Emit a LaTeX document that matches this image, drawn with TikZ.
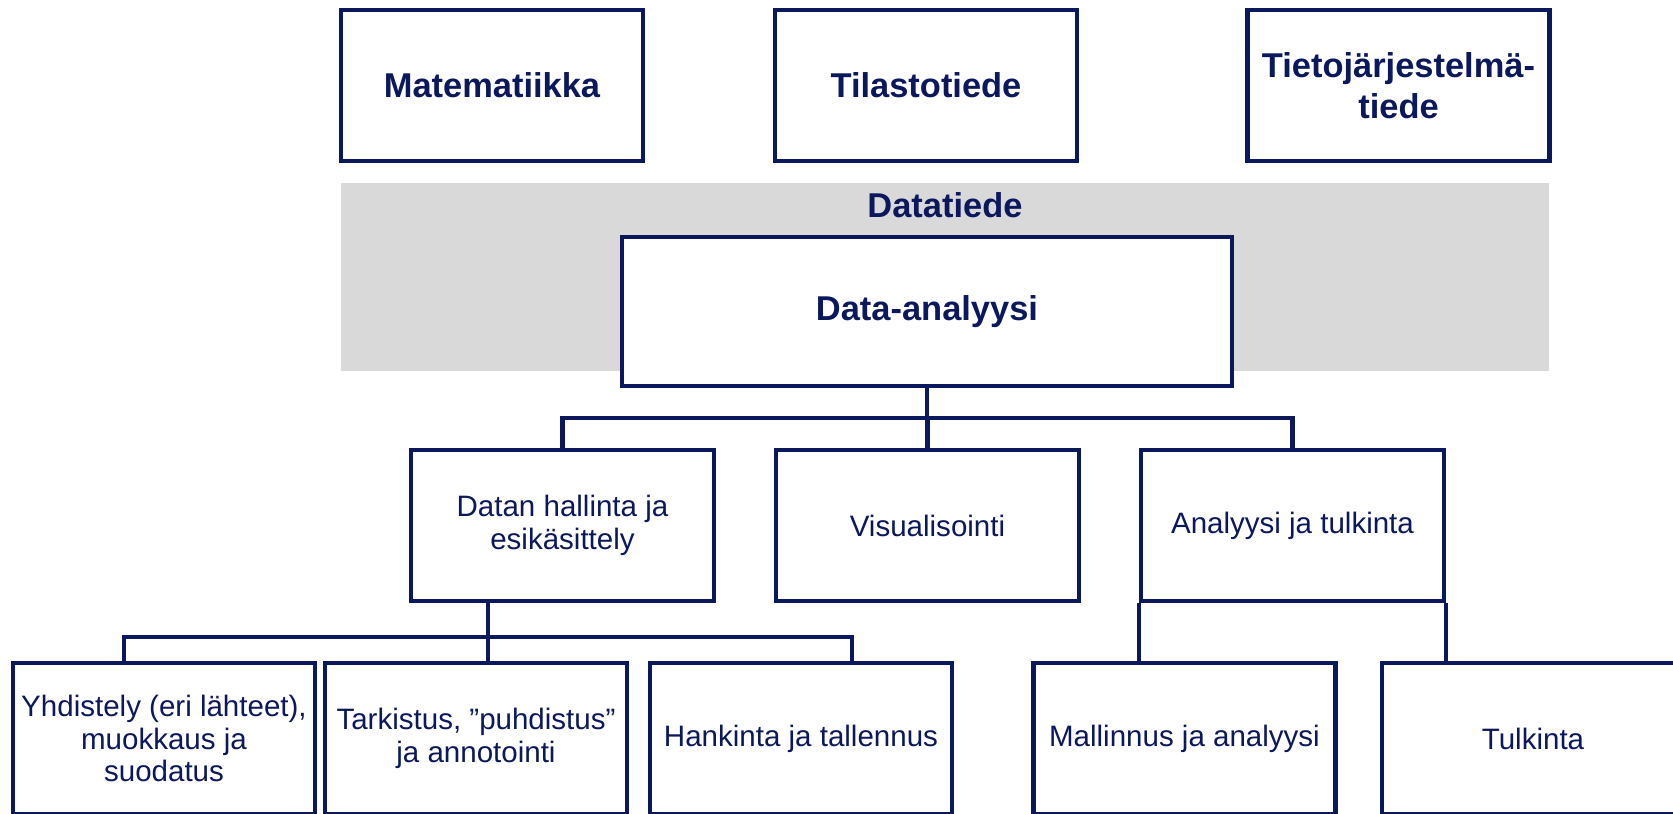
\documentclass[tikz,border=0pt]{standalone}
\usepackage{fontspec}
\setmainfont{Liberation Sans}
\usepackage{tikz}
\usetikzlibrary{positioning}
\definecolor{navy}{RGB}{12,24,92}
\definecolor{bandgray}{RGB}{217,217,217}

\begin{document}
\begin{tikzpicture}[
  box/.style={draw=navy,line width=1.3pt,fill=white,text=navy,align=center,minimum width=3.02cm,minimum height=1.51cm,inner sep=1pt},
  headbox/.style={box,font=\fontsize{9.8}{11.8}\selectfont\bfseries},
  leafbox/.style={box,font=\fontsize{8.4}{9.2}\selectfont},
  conn/.style={draw=navy,line width=1.2pt}]
\useasboundingbox (0,0) rectangle (16.73,8.13);
\clip (0,0) rectangle (16.73,8.13);

\node[headbox] (mat) at (4.92,7.275) {Matematiikka};
\node[headbox] (til) at (9.26,7.275) {Tilastotiede};
\node[headbox] (tie) at (13.985,7.275) {Tietojärjestelmä-\\tiede};

\fill[bandgray] (3.41,4.42) rectangle (15.49,6.30);
\node[font=\fontsize{9.8}{11.8}\selectfont\bfseries,text=navy] (dt) at (9.45,6.08) {Datatiede};
\node[headbox,minimum width=6.10cm,minimum height=1.49cm] (da) at (9.27,5.015) {Data-analyysi};

\node[leafbox,minimum width=3.03cm] (dh) at (5.625,2.875) {Datan hallinta ja\\esikäsittely};
\node[leafbox,minimum width=3.03cm] (vi) at (9.275,2.875) {Visualisointi};
\node[leafbox,minimum width=3.03cm] (an) at (12.925,2.875) {Analyysi ja tulkinta};

\node[leafbox] (yh) at (1.64,0.745) {Yhdistely (eri lähteet),\\muokkaus ja\\suodatus};
\node[leafbox] (ta) at (4.76,0.745) {Tarkistus, ”puhdistus”\\ja annotointi};
\node[leafbox] (ha) at (8.01,0.745) {Hankinta ja tallennus};
\node[leafbox] (ma) at (11.845,0.745) {Mallinnus ja analyysi};
\node[leafbox] (tu) at (15.33,0.745) {Tulkinta};

% ylempi haarautuma
\coordinate (b1) at (9.27,3.95);
\draw[conn] (da.south) -- (b1) -- (b1 -| vi.north) -- (vi.north);
\draw[conn] (dh.north) |- (b1) -| (an.north);

% datan hallinnan alahaarat
\coordinate (b2) at (4.88,1.76);
\draw[conn] (dh.south -| b2) -- (ta.north -| b2);
\draw[conn] ([xshift=-4mm]yh.north) |- (b2) -| ([xshift=5.1mm]ha.north);

% analyysin alahaarat
\draw[conn] (an.south west) -- (an.south west |- ma.north);
\draw[conn] (an.south east) -- (an.south east |- tu.north);

\end{tikzpicture}
\end{document}
